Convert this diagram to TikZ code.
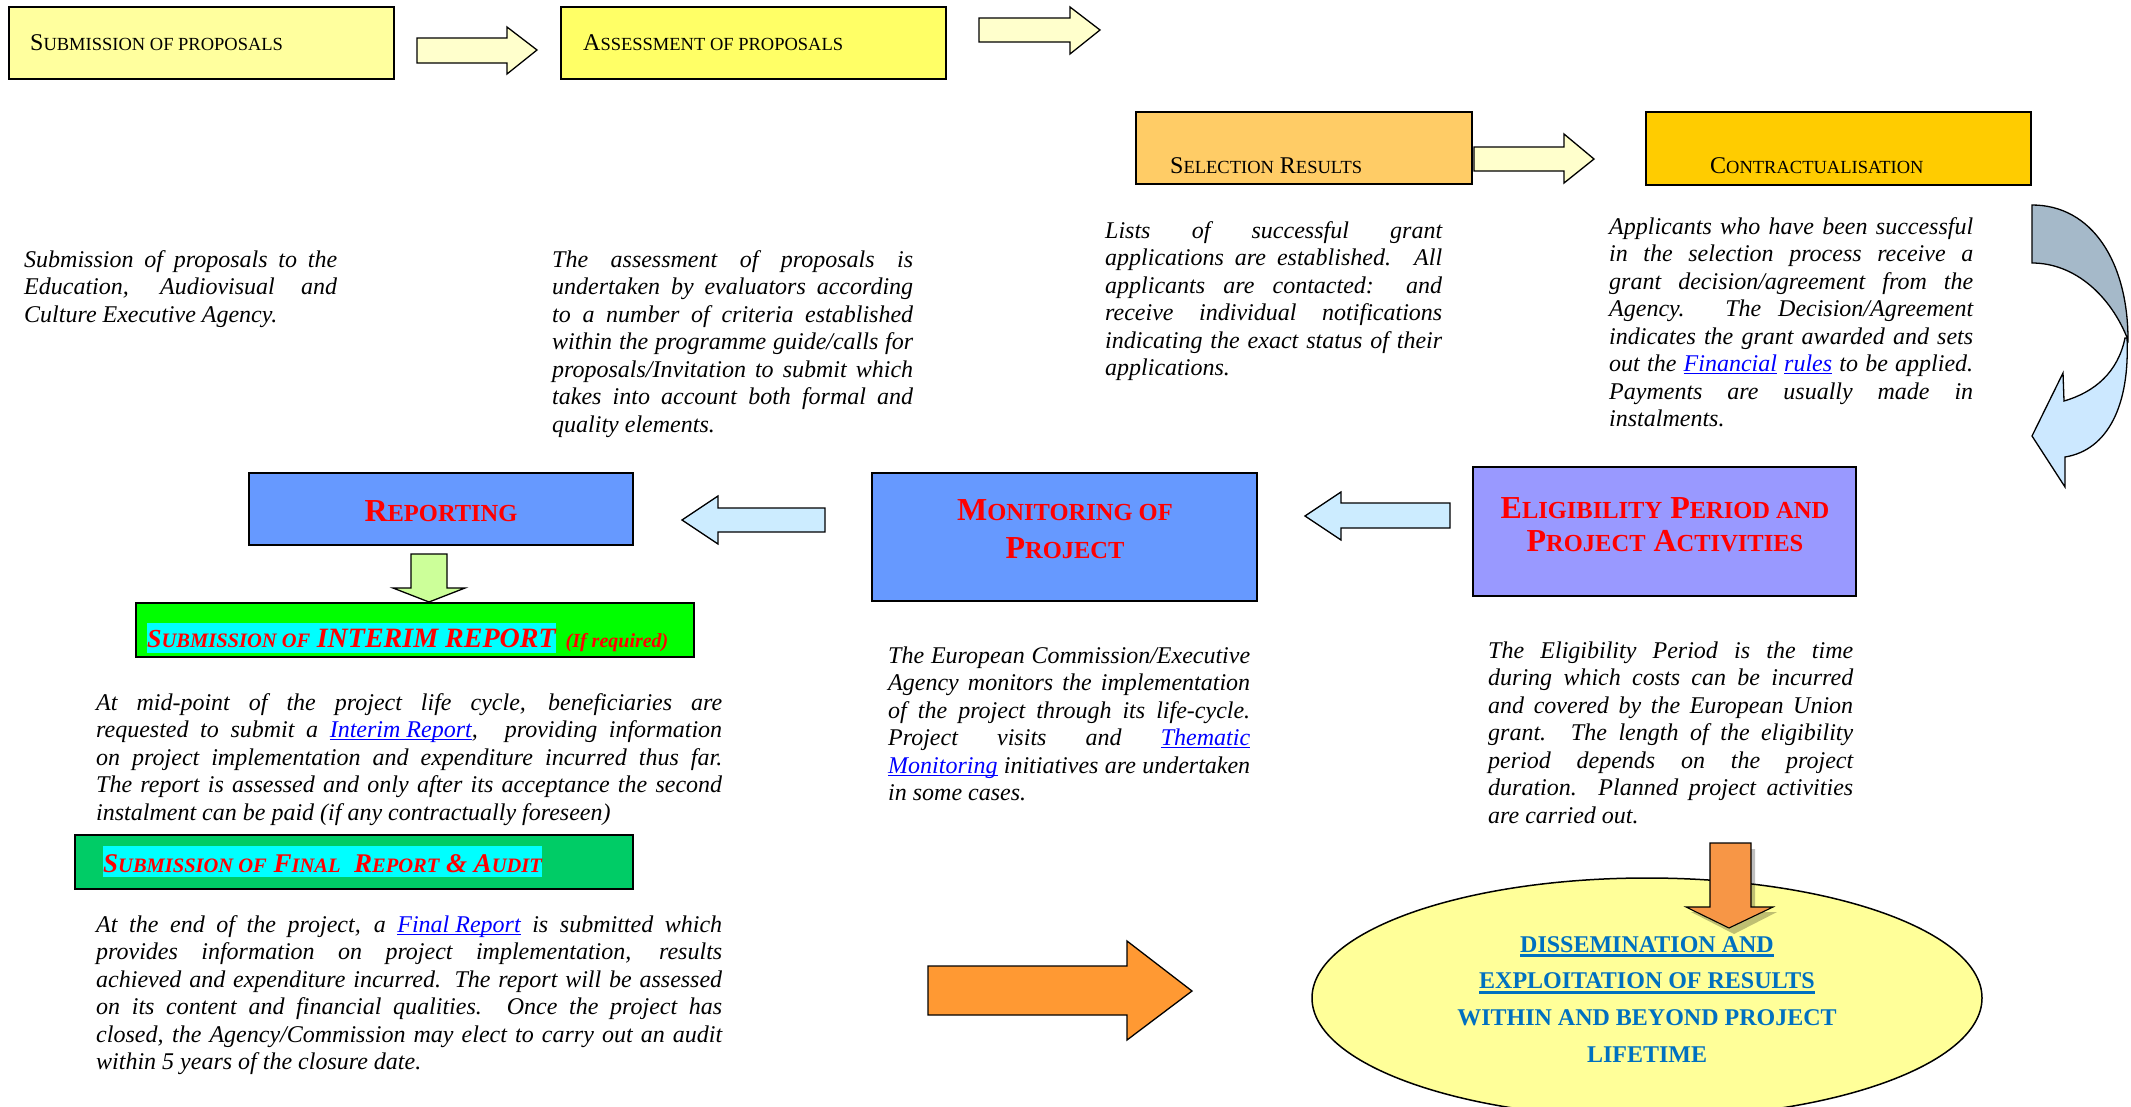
\documentclass[tikz,border=0pt]{standalone}
\usepackage{fontspec}
\setmainfont{Liberation Serif}
\usetikzlibrary{shapes.geometric}
\definecolor{boxA}{HTML}{FFFF9E}
\definecolor{boxB}{HTML}{FFFF66}
\definecolor{boxC}{HTML}{FFCC66}
\definecolor{boxD}{HTML}{FFCC00}
\definecolor{arrY}{HTML}{FFFFCC}
\definecolor{blueBox}{HTML}{6699FF}
\definecolor{violetBox}{HTML}{9999FF}
\definecolor{arrB}{HTML}{CCECFF}
\definecolor{arrG}{HTML}{CCFF99}
\definecolor{greenA}{HTML}{00FF00}
\definecolor{greenB}{HTML}{00CC66}
\definecolor{hlcyan}{HTML}{00FFFF}
\definecolor{ellY}{HTML}{FFFF99}
\definecolor{ellBlue}{HTML}{0070C0}
\definecolor{orangeA}{HTML}{FF9933}
\definecolor{orangeB}{HTML}{F79646}
\definecolor{curveTop}{HTML}{A5B9C9}
\definecolor{curveBot}{HTML}{CCE8FF}
\definecolor{linkblue}{HTML}{0000FF}
\definecolor{redhd}{HTML}{FF0000}
\newsavebox\ubox
\newcommand\ulx[3]{\leavevmode\sbox\ubox{#3}\rlap{\rule[-#2]{\wd\ubox}{#1}}\usebox\ubox}
\newcommand\lnk[1]{\textcolor{linkblue}{\ulx{1.1pt}{2.8pt}{#1}}}
\newcommand\jl[1]{\makebox[\linewidth][s]{#1}\\}
\newcommand\smA[1]{{\fontsize{18.5}{22}\selectfont #1}}
\newcommand\smB[1]{{\fontsize{24.5}{28}\selectfont #1}}
\newcommand\smC[1]{{\fontsize{20.5}{24}\selectfont #1}}
\newcommand\hlt[3]{{\setlength\fboxsep{0pt}\colorbox{hlcyan}{\rule[-#1]{0pt}{#2}#3}}}
\newcommand\bodyfont{\fontsize{24}{27.5}\selectfont\itshape}
\tikzset{
  box/.style={draw=black, line width=1.6pt, anchor=north west, inner sep=0pt, outer sep=0pt},
  blk/.style={draw=black, line width=1.3pt, line join=miter},
  hd/.style={anchor=base west, inner sep=0pt, font=\fontsize{24}{28}\selectfont},
  rh/.style={anchor=base, inner sep=0pt, text=redhd, font=\fontsize{32}{36}\selectfont\bfseries},
  body/.style={anchor=base west, inner sep=0pt}
}
\begin{document}
\begin{tikzpicture}[x=1pt,y=-1pt]
\useasboundingbox (0,0) rectangle (2131,1106);
\fill[white] (0,0) rectangle (2131,1106);

% ---- top row boxes
\node[box, fill=boxA, minimum width=385, minimum height=72] (A) at (9,7) {};
\node[box, fill=boxB, minimum width=385, minimum height=72] (B) at (561,7) {};
\node[box, fill=boxC, minimum width=336, minimum height=72] (C) at (1136,112) {};
\node[box, fill=boxD, minimum width=385, minimum height=73] (D) at (1646,112) {};
\node[hd] (tA) at (30,50) {S\smA{UBMISSION OF PROPOSALS}};
\node[hd] (tB) at (583,50) {A\smA{SSESSMENT OF PROPOSALS}};
\node[hd] (tC) at (1170,173) {S\smA{ELECTION} R\smA{ESULTS}};
\node[hd] (tD) at (1710,173) {C\smA{ONTRACTUALISATION}};

% ---- right block arrows
\draw[blk, fill=arrY] (417,38)--(507,38)--(507,27)--(537,50)--(507,74)--(507,63)--(417,63)--cycle;
\draw[blk, fill=arrY] (979,18)--(1070,18)--(1070,7)--(1100,30)--(1070,54)--(1070,42)--(979,42)--cycle;
\draw[blk, fill=arrY] (1474,147)--(1564,147)--(1564,134)--(1594,159)--(1564,183)--(1564,171)--(1474,171)--cycle;

% ---- curved arrow
\draw[blk, fill=curveBot] (2127,338) .. controls (2130,405) and (2108,450) .. (2065,457)
  -- (2065,487) -- (2032,436) -- (2063,373) -- (2064,401)
  .. controls (2095,392) and (2118,372) .. (2125,338) -- cycle;
\draw[blk, fill=curveTop] (2032,205) .. controls (2092,205) and (2128,262) .. (2128,340)
  .. controls (2111,296) and (2075,263) .. (2032,263) -- cycle;

% ---- descriptive texts, upper
\node[body] (t1) at (24,267) {\parbox[t]{313pt}{\bodyfont
\jl{Submission of proposals to the}
\jl{Education, Audiovisual and}
Culture Executive Agency.}};
\node[body] (t2) at (552,267) {\parbox[t]{361pt}{\bodyfont
\jl{The assessment of proposals is}
\jl{undertaken by evaluators according}
\jl{to a number of criteria established}
\jl{within the programme guide/calls for}
\jl{proposals/Invitation to submit which}
\jl{takes into account both formal and}
quality elements.}};
\node[body] (t3) at (1105,238) {\parbox[t]{337pt}{\bodyfont
\jl{Lists of successful grant}
\jl{applications are established. All}
\jl{applicants are contacted: and}
\jl{receive individual notifications}
\jl{indicating the exact status of their}
applications.}};
\node[body] (t4) at (1609,234) {\parbox[t]{364pt}{\bodyfont
\jl{Applicants who have been successful}
\jl{in the selection process receive a}
\jl{grant decision/agreement from the}
\jl{Agency. The Decision/Agreement}
\jl{indicates the grant awarded and sets}
\jl{out the \lnk{Financial} \lnk{rules} to be applied.}
\jl{Payments are usually made in}
instalments.}};

% ---- middle row boxes
\node[box, fill=blueBox, minimum width=384, minimum height=72] (E) at (249,473) {};
\node[box, fill=blueBox, minimum width=385, minimum height=128] (F) at (872,473) {};
\node[box, fill=violetBox, minimum width=383, minimum height=129] (G) at (1473,467) {};
\node[rh] (tE) at (441,521) {R\smB{EPORTING}};
\node[rh] (tF1) at (1065,520) {M\smB{ONITORING OF}};
\node[rh] (tF2) at (1065,558) {P\smB{ROJECT}};
\node[rh] (tG1) at (1665,518) {E\smB{LIGIBILITY} P\smB{ERIOD AND}};
\node[rh] (tG2) at (1665,551) {P\smB{ROJECT} A\smB{CTIVITIES}};

% ---- left arrows and down arrow
\draw[blk, fill=arrB] (825,508)--(718,508)--(718,496)--(682,520)--(718,544)--(718,532)--(825,532)--cycle;
\draw[blk, fill=arrB] (1450,503)--(1341,503)--(1341,492)--(1305,516)--(1341,540)--(1341,528)--(1450,528)--cycle;
\draw[blk, fill=arrG] (411,554)--(447,554)--(447,588)--(465,588)--(429,602)--(393,588)--(411,588)--cycle;

% ---- interim / final boxes
\node[box, fill=greenA, minimum width=558, minimum height=54] (H) at (136,603) {};
\node[box, fill=greenB, minimum width=558, minimum height=54] (I) at (75,835) {};
\node[anchor=base west, inner sep=0pt, text=redhd, font=\bfseries\itshape] (tH) at (147,647)
 {\hlt{6pt}{30pt}{\fontsize{26}{30}\selectfont S\smC{UBMISSION OF} {\fontsize{28}{30}\selectfont INTERIM REPORT}}\hspace{10pt}{\fontsize{20}{24}\selectfont (If required)}};
\node[anchor=base west, inner sep=0pt, text=redhd, font=\bfseries\itshape] (tI) at (103,872)
 {\hlt{5pt}{31pt}{\fontsize{27}{30}\selectfont S\smC{UBMISSION OF} F\smC{INAL}\ \ R\smC{EPORT} \& A\smC{UDIT}}};

% ---- lower texts
\node[body] (t5) at (96,710) {\parbox[t]{626pt}{\bodyfont
\jl{At mid-point of the project life cycle, beneficiaries are}
\jl{requested to submit a \lnk{Interim Report},\hspace{14pt} providing information}
\jl{on project implementation and expenditure incurred thus far.}
\jl{The report is assessed and only after its acceptance the second}
instalment can be paid (if any contractually foreseen)}};
\node[body] (t6) at (96,932) {\parbox[t]{626pt}{\bodyfont
\jl{At the end of the project, a \lnk{Final Report} is submitted which}
\jl{provides information on project implementation, results}
\jl{achieved and expenditure incurred. The report will be assessed}
\jl{on its content and financial qualities. Once the project has}
\jl{closed, the Agency/Commission may elect to carry out an audit}
within 5 years of the closure date.}};
\node[body] (t7) at (888,663) {\parbox[t]{362pt}{\bodyfont
\jl{The European Commission/Executive}
\jl{Agency monitors the implementation}
\jl{of the project through its life-cycle.}
\jl{Project visits and \lnk{Thematic}}
\jl{\lnk{Monitoring} initiatives are undertaken}
in some cases.}};
\node[body] (t8) at (1488,658) {\parbox[t]{365pt}{\bodyfont
\jl{The Eligibility Period is the time}
\jl{during which costs can be incurred}
\jl{and covered by the European Union}
\jl{grant. The length of the eligibility}
\jl{period depends on the project}
\jl{duration. Planned project activities}
are carried out.}};

% ---- big orange arrow
\draw[blk, fill=orangeA] (928,966)--(1127,966)--(1127,941)--(1192,991)--(1127,1040)--(1127,1015)--(928,1015)--cycle;

% ---- ellipse (runs slightly past the lower edge, as in the reference)
\node[draw=black, line width=1.5pt, ellipse, fill=ellY, minimum width=670, minimum height=240, inner sep=0pt] (ell) at (1647,998) {};
\node[anchor=base, inner sep=0pt, text=ellBlue] (tell) at (1647,952) {\parbox[t]{640pt}{\centering\fontsize{24}{36.7}\selectfont\bfseries
\ulx{2.6pt}{5pt}{DISSEMINATION AND}\\
\ulx{2.6pt}{5pt}{EXPLOITATION OF RESULTS}\\
WITHIN AND BEYOND PROJECT\\
LIFETIME}};

% ---- orange down arrow with shadow
\fill[black, opacity=0.25] (1715,849)--(1755,849)--(1755,912)--(1777,912)--(1734,934)--(1691,912)--(1715,912)--cycle;
\draw[blk, line width=1.1pt, fill=orangeB] (1710,843)--(1751,843)--(1751,907)--(1773,907)--(1729,928)--(1686,907)--(1710,907)--cycle;
\end{tikzpicture}
\end{document}
